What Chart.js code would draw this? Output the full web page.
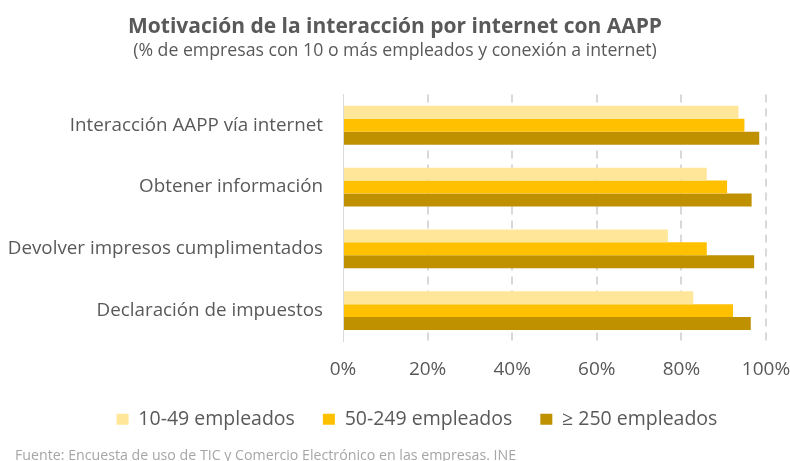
<!DOCTYPE html>
<html>
<head>
<meta charset="utf-8">
<script src="https://cdn.jsdelivr.net/npm/chart.js@4/dist/chart.umd.min.js"></script>
<style>
    html, body { margin: 0; padding: 0; background: #fff; }
    #wrap { position: relative; width: 790px; height: 461px; }
    #fuente {
        position: absolute; left: 15px; top: 445px;
        font: 14.2px 'Open Sans', sans-serif; color: #a6a6a6; white-space: nowrap;
    }
</style>
</head>
<body>
<div id="wrap">
    <canvas id="chart" width="790" height="461"></canvas>
    <div id="fuente">Fuente: Encuesta de uso de TIC y Comercio Electrónico en las empresas. INE</div>
</div>
<script>
// Data
const categories = [
    'Interacción AAPP vía internet',
    'Obtener información',
    'Devolver impresos cumplimentados',
    'Declaración de impuestos'
];
const seriesNames = ['10-49 empleados', '50-249 empleados', '≥ 250 empleados'];
const small = [93.5, 86.0, 76.8, 82.8];
const medium = [94.9, 90.8, 86.0, 92.2];
const large = [98.4, 96.6, 97.2, 96.4];
const xTicks = [0, 20, 40, 60, 80, 100];

const colors = ['#FFE699', '#FFC000', '#BF9000'];
const textColor = '#595959';
const font = "'Open Sans', sans-serif";

// Excel centres the legend a bit to the right of the canvas centre
const legendShift = {
    id: 'legendShift',
    afterLayout(chart) {
        const lg = chart.legend;
        if (lg) {
            lg.left += 22;
            lg.right += 22;
        }
    }
};

const ctx = document.getElementById('chart').getContext('2d');

new Chart(ctx, {
    type: 'bar',
    data: {
        labels: categories,
        datasets: [small, medium, large].map((values, i) => ({
            label: seriesNames[i],
            data: values,
            backgroundColor: colors[i],
            borderWidth: 0,
            categoryPercentage: 0.63,
            barPercentage: 1.0
        }))
    },
    options: {
        indexAxis: 'y',
        responsive: false,
        animation: false,
        layout: { padding: { left: 0, right: 0, top: 0, bottom: 22 } },
        scales: {
            x: {
                min: 0,
                max: 100,
                afterBuildTicks: (scale) => { scale.ticks = xTicks.map(v => ({ value: v })); },
                afterFit: (scale) => {
                    scale.height = 40;
                    scale.paddingRight = 24;
                },
                ticks: {
                    color: textColor,
                    padding: 17,
                    font: { family: font, size: 19 },
                    callback: (value) => value + '%'
                },
                grid: {
                    drawTicks: false,
                    lineWidth: 2,
                    color: (c) => c.tick && c.tick.value === 0 ? 'rgba(0,0,0,0)' : '#d9d9d9'
                },
                border: { display: false, dash: [8, 6] }
            },
            y: {
                afterFit: (scale) => { scale.width = 343; },
                ticks: {
                    color: textColor,
                    padding: 20,
                    font: { family: font, size: 18.8 }
                },
                grid: { display: false, drawTicks: false },
                border: { display: true, color: '#d9d9d9', width: 1 }
            }
        },
        plugins: {
            title: {
                display: true,
                text: 'Motivación de la interacción por internet con AAPP',
                color: textColor,
                font: { family: font, size: 21, weight: 'bold' },
                padding: { top: 14, bottom: 1 }
            },
            subtitle: {
                display: true,
                text: '(% de empresas con 10 o más empleados y conexión a internet)',
                color: textColor,
                font: { family: font, size: 17.7 },
                padding: { top: 0, bottom: 33 }
            },
            legend: {
                position: 'bottom',
                labels: {
                    color: textColor,
                    font: { family: font, size: 19.5 },
                    boxWidth: 12,
                    boxHeight: 11,
                    padding: 28
                }
            },
            tooltip: { enabled: false }
        }
    },
    plugins: [legendShift]
});
</script>
</body>
</html>
